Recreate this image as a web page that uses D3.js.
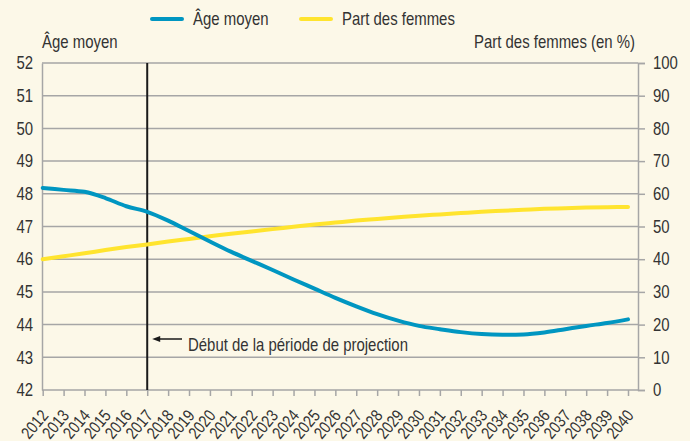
<!DOCTYPE html>
<html><head><meta charset="utf-8">
<script src="https://cdn.jsdelivr.net/npm/d3@7"></script>
<style>
body{margin:0;background:#fcf8e8;}
svg{display:block;font-family:"Liberation Sans",Arial,sans-serif;}
</style></head><body>
<svg id="c" width="690" height="441"></svg>
<script>
const years = d3.range(2012, 2041);
const ageMoyen = [48.18,48.12,48.06,47.87,47.62,47.45,47.18,46.86,46.54,46.23,45.95,45.67,45.38,45.1,44.82,44.56,44.32,44.12,43.96,43.86,43.77,43.71,43.69,43.7,43.76,43.86,43.96,44.05,44.16];
const partFemmes = [40.0,40.9,41.8,42.8,43.7,44.5,45.4,46.2,47.0,47.8,48.5,49.2,49.9,50.6,51.2,51.8,52.3,52.8,53.3,53.7,54.1,54.5,54.8,55.1,55.4,55.6,55.8,55.9,56.0];
const leftTicks = d3.range(42, 53);
const rightTicks = d3.range(0, 101, 10);
const projStart = 2017;

const svg = d3.select("#c");
const L = 42, R = 638, T = 63, B = 390;
const x = d3.scaleLinear().domain([2012, 2040]).range([42.7, 628]);
const yL = d3.scaleLinear().domain([42, 52]).range([B, T]);
const yR = d3.scaleLinear().domain([0, 100]).range([B, T]);
const grid = "#a6a6a6", txt = "#333";
const FS = 18, K = 0.83;

function narrow(sel) {
  sel.each(function () {
    const t = d3.select(this);
    const ax = +t.attr("x") || 0, ay = +t.attr("y") || 0;
    const prev = t.attr("transform") || "";
    t.attr("transform", `${prev} translate(${ax},${ay}) scale(${K},1) translate(${-ax},${-ay})`);
  });
}

// gridlines
svg.append("g").selectAll("line").data(leftTicks.slice(1)).join("line")
  .attr("x1", L).attr("x2", R).attr("y1", d => yL(d)).attr("y2", d => yL(d))
  .attr("stroke", grid).attr("stroke-width", 1.5);

// left axis
const gl = svg.append("g").attr("transform", `translate(${L},0)`)
  .call(d3.axisLeft(yL).tickValues(leftTicks).tickSize(0).tickPadding(9).tickFormat(d3.format("d")));
gl.select(".domain").attr("stroke", grid).attr("stroke-width", 1.5);
gl.selectAll("text").attr("font-size", FS).attr("fill", txt).attr("font-family", null).call(narrow);

// right axis
const gr = svg.append("g").attr("transform", `translate(${R},0)`)
  .call(d3.axisRight(yR).tickValues(rightTicks).tickSize(7).tickPadding(8).tickFormat(d3.format("d")));
gr.select(".domain").attr("stroke", grid).attr("stroke-width", 1.5);
gr.selectAll(".tick line").attr("stroke", grid).attr("stroke-width", 1.5);
gr.selectAll("text").attr("font-size", FS).attr("fill", txt).attr("font-family", null).call(narrow);

// bottom axis
svg.append("line").attr("x1", L).attr("x2", R).attr("y1", B).attr("y2", B).attr("stroke", grid).attr("stroke-width", 1.5);
const gb = svg.append("g").attr("transform", `translate(0,${B})`)
  .call(d3.axisBottom(x).tickValues(years).tickSize(6).tickFormat(d3.format("d")));
gb.select(".domain").remove();
gb.selectAll(".tick line").attr("stroke", grid).attr("stroke-width", 1.5);
gb.selectAll("text").attr("font-size", 17).attr("fill", txt).attr("font-family", null)
  .attr("text-anchor", "end").attr("x", 0).attr("y", 0).attr("dy", null)
  .attr("transform", "translate(6,26) rotate(-50)").call(narrow);

// projection line
svg.append("line").attr("x1", x(projStart)).attr("x2", x(projStart)).attr("y1", T).attr("y2", B)
  .attr("stroke", "#1a1a1a").attr("stroke-width", 2);

// lines
const lineAge = d3.line().x((d, i) => x(years[i])).y(d => yL(d)).curve(d3.curveMonotoneX);
const lineF = d3.line().x((d, i) => x(years[i])).y(d => yR(d)).curve(d3.curveMonotoneX);
svg.append("path").attr("d", lineF(partFemmes)).attr("fill", "none").attr("stroke", "#ffe42e").attr("stroke-width", 4).attr("stroke-linecap", "round");
svg.append("path").attr("d", lineAge(ageMoyen)).attr("fill", "none").attr("stroke", "#0096c1").attr("stroke-width", 4).attr("stroke-linecap", "round");

// annotation
const px = x(projStart);
svg.append("line").attr("x1", px + 8).attr("x2", 182).attr("y1", 339).attr("y2", 339)
  .attr("stroke", "#1a1a1a").attr("stroke-width", 1.5);
svg.append("path").attr("d", `M${px+5},339 L${px+13},336 L${px+13},342 Z`).attr("fill", "#1a1a1a");
svg.append("text").attr("x", 188).attr("y", 351).attr("font-size", FS).attr("fill", txt).text("Début de la période de projection").call(narrow);

// axis titles
svg.append("text").attr("x", 42).attr("y", 48).attr("font-size", FS).attr("fill", txt).text("Âge moyen").call(narrow);
svg.append("text").attr("x", 635).attr("y", 48).attr("text-anchor", "end").attr("font-size", FS).attr("fill", txt).text("Part des femmes (en %)").call(narrow);

// legend
const leg = [{n: "Âge moyen", c: "#0096c1", x: 152}, {n: "Part des femmes", c: "#ffe42e", x: 301}];
const lg = svg.append("g").selectAll("g").data(leg).join("g").attr("transform", d => `translate(${d.x},19)`);
lg.append("line").attr("x1", 0).attr("x2", 30).attr("stroke", d => d.c).attr("stroke-width", 4).attr("stroke-linecap", "round");
lg.append("text").attr("x", 41).attr("y", 6).attr("font-size", FS).attr("fill", txt).text(d => d.n).call(narrow);
</script>
</body></html>
